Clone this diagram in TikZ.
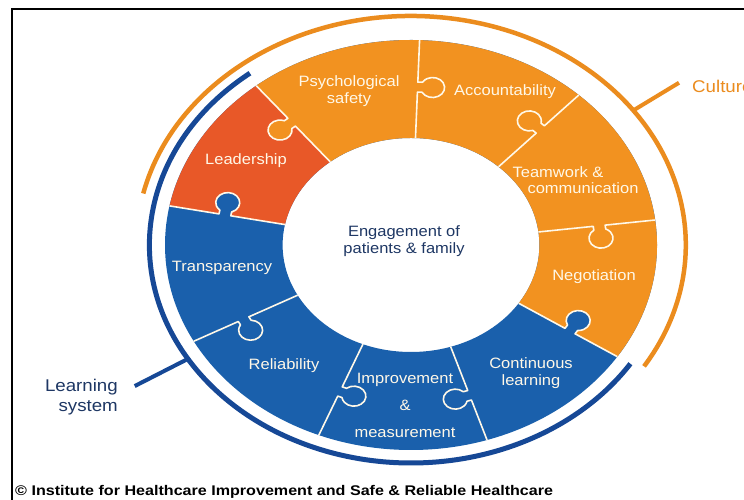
\documentclass[tikz,border=0pt]{standalone}
\usepackage{fontspec}
\setmainfont{Liberation Sans}
\newfontfamily\lblfont[FakeStretch=1.1]{Liberation Sans}
\newfontfamily\creditfont[FakeStretch=1.15]{Liberation Sans}

\definecolor{cultureorange}{RGB}{242,146,32}
\definecolor{leadred}{RGB}{232,88,40}
\definecolor{learnblue}{RGB}{26,96,172}
\definecolor{arcblue}{RGB}{22,72,150}
\definecolor{arcorange}{RGB}{235,140,30}
\definecolor{navy}{RGB}{30,55,100}
\definecolor{seamwhite}{RGB}{255,248,232}

\tikzset{
  seam/.style={draw=seamwhite, line width=1.6pt, line join=round},
  piecetext/.style={text=seamwhite, font=\lblfont\fontsize{15}{17}\selectfont, align=center, inner sep=0pt},
  centretext/.style={text=navy, font=\lblfont\fontsize{15}{17}\selectfont, align=center, inner sep=0pt},
  bandtext/.style={font=\lblfont\fontsize{17}{20}\selectfont, inner sep=0pt},
  outerarc/.style={line width=4.5pt},
  frameline/.style={line width=2.5pt, black}
}

% filled head of a jigsaw tab on the joint at angle #1, pointing to side #2 (1 or -1)
\newcommand\tabfill[3]{%
  \begin{scope}[rotate=#1, yscale=#2]
    \fill[#3] (153,-1) -- (153,3.84) arc[start angle=240, end angle=-60, radius=10] -- (163,-1) -- cycle;
  \end{scope}}
% white seam along the joint at angle #1, with its tab outline
\newcommand\tabseam[2]{%
  \begin{scope}[rotate=#1, yscale=#2]
    \draw[seam] (107,0) -- (153,0) -- (153,3.84) arc[start angle=240, end angle=-60, radius=10] -- (163,0) -- (205,0);
  \end{scope}}

\begin{document}
\begin{tikzpicture}[x=1pt,y=1pt]
\useasboundingbox (0,0) rectangle (744,500);
\fill[white] (0,0) rectangle (744,500);

% frame
\draw[frameline] (12,0) -- (12,491) -- (744,491);

\begin{scope}[shift={(411,255)}, xscale=1.2]
  % outer bands
  \draw[arcorange, outerarc] (167:229) arc[start angle=167, end angle=-32, radius=229];
  \draw[arcblue, outerarc, line width=5pt] (128:218) arc[start angle=128, end angle=327, radius=218];
  \coordinate (cultA) at (36:229);
  \coordinate (cultB) at (36:276);
  \coordinate (learnA) at (211.5:218);
  \coordinate (learnB) at (211.5:270);
  \draw[arcorange, line width=4pt] (cultA) -- (cultB);
  \draw[arcblue, line width=4pt] (learnA) -- (learnB);

  % ring pieces
  \fill[learnblue, even odd rule] (0,0) circle[radius=205] (0,0) circle[radius=107];
  \fill[cultureorange] (-33:205) arc[start angle=-33, end angle=129, radius=205]
    -- (129:107) arc[start angle=129, end angle=-33, radius=107] -- cycle;
  \fill[leadred] (129:205) arc[start angle=129, end angle=169, radius=205]
    -- (169:107) arc[start angle=169, end angle=129, radius=107] -- cycle;

  % tab heads
  \tabfill{129}{1}{cultureorange}
  \tabfill{88}{-1}{cultureorange}
  \tabfill{47}{1}{cultureorange}
  \tabfill{7}{-1}{cultureorange}
  \tabfill{-33}{1}{learnblue}
  \tabfill{-72}{-1}{learnblue}
  \tabfill{-112}{1}{learnblue}
  \tabfill{-152}{1}{learnblue}
  \tabfill{169}{-1}{learnblue}

  % seams
  \tabseam{129}{1}
  \tabseam{88}{-1}
  \tabseam{47}{1}
  \tabseam{7}{-1}
  \tabseam{-33}{1}
  \tabseam{-72}{-1}
  \tabseam{-112}{1}
  \tabseam{-152}{1}
  \tabseam{169}{-1}
\end{scope}

% piece labels
\node[piecetext] (psych) at (349,408.5) {Psychological\\safety};
\node[piecetext] (account) at (505,408) {Accountability};
\node[piecetext] (team1) at (558,328) {Teamwork \&};
\node[piecetext] (team2) at (583,312) {communication};
\node[piecetext] (negot) at (594,223) {Negotiation};
\node[piecetext] (contin) at (531,127) {Continuous\\learning};
\node[piecetext, font=\lblfont\fontsize{15}{27}\selectfont] (improve) at (405,95) {Improvement\\\&\\measurement};
\node[piecetext] (reliab) at (284,134) {Reliability};
\node[piecetext] (transp) at (222,232) {Transparency};
\node[piecetext] (leader) at (246,339) {Leadership};

% centre
\node[centretext] (engage) at (404,259) {Engagement of\\patients \& family};

% band labels
\node[bandtext, anchor=west, text=arcorange] (culture) at (692,414) {Culture};
\node[bandtext, anchor=east, text=navy, align=right] (learning) at (118,103) {Learning\\system};

% credit line
\node[anchor=west, inner sep=0pt, font=\creditfont\bfseries\fontsize{14}{16}\selectfont] (credit) at (15,8) {\textcopyright{} Institute for Healthcare Improvement and Safe \& Reliable Healthcare};
\end{tikzpicture}
\end{document}
